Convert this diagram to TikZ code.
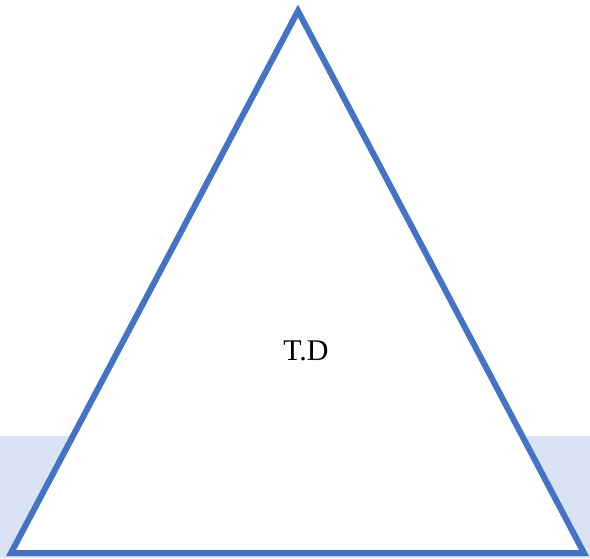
\documentclass[tikz,border=0pt]{standalone}
\usepackage{fontspec}
\setmainfont{Liberation Serif}
\definecolor{tdblue}{HTML}{4472C4}
\definecolor{tdband}{HTML}{DAE3F3}

\begin{document}
\begin{tikzpicture}[
    x=1pt, y=-1pt,
    edge/.style={draw=tdblue, line width=6pt, fill=white, line join=miter},
    band/.style={fill=tdband, draw=none},
    lbl/.style={font=\fontsize{30}{34}\selectfont, inner sep=0pt},
  ]
  \useasboundingbox (0,0) rectangle (590,558);
  \fill[band] (0,436) rectangle (590,558);
  \coordinate (top) at (298,11);
  \coordinate (bl) at (11,553);
  \coordinate (br) at (584,553);
  \path[edge] (top) -- (bl) -- (br) -- cycle;
  \node[lbl] (td) at (306,351) {T.D};
\end{tikzpicture}
\end{document}
